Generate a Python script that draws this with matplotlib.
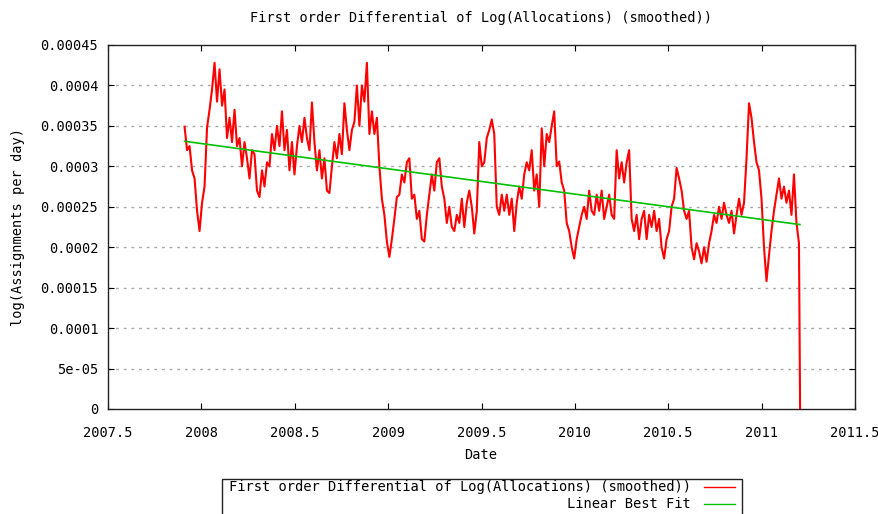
"""First order differential of log(allocations), smoothed, with a linear fit."""

import matplotlib

matplotlib.use("Agg")
import matplotlib.pyplot as plt
from matplotlib.lines import Line2D
from matplotlib.patches import Rectangle
import numpy as np

# Red series (units of 1e-4), evenly spaced in time
red_start = 2007.91
red_end = 2011.20
red_values = [
    3.49, 3.20, 3.25, 2.95, 2.85, 2.45, 2.20, 2.55, 2.75, 3.48,
    3.70, 3.95, 4.28, 3.80, 4.20, 3.75, 3.95, 3.35, 3.60, 3.30,
    3.70, 3.25, 3.35, 3.00, 3.30, 3.10, 2.85, 3.20, 3.15, 2.70,
    2.62, 2.95, 2.75, 3.05, 3.00, 3.40, 3.20, 3.50, 3.25, 3.68,
    3.20, 3.45, 2.95, 3.30, 2.90, 3.25, 3.50, 3.30, 3.60, 3.35,
    3.20, 3.79, 3.30, 2.95, 3.20, 2.85, 3.10, 2.70, 2.67, 3.00,
    3.30, 3.10, 3.40, 3.15, 3.78, 3.45, 3.20, 3.45, 3.55, 4.00,
    3.50, 4.00, 3.80, 4.28, 3.40, 3.68, 3.40, 3.60, 3.00, 2.60,
    2.40, 2.07, 1.88, 2.10, 2.35, 2.62, 2.65, 2.90, 2.80, 3.05,
    3.10, 2.60, 2.65, 2.35, 2.45, 2.10, 2.07, 2.40, 2.65, 2.90,
    2.70, 3.05, 3.10, 2.75, 2.60, 2.30, 2.50, 2.25, 2.20, 2.40,
    2.30, 2.60, 2.25, 2.55, 2.70, 2.50, 2.17, 2.45, 3.30, 3.00,
    3.05, 3.35, 3.45, 3.58, 3.40, 2.50, 2.40, 2.65, 2.45, 2.65,
    2.40, 2.60, 2.20, 2.55, 2.75, 2.60, 2.90, 3.05, 2.95, 3.20,
    2.70, 2.90, 2.50, 3.47, 3.00, 3.40, 3.30, 3.50, 3.68, 3.00,
    3.06, 2.80, 2.70, 2.30, 2.20, 2.00, 1.86, 2.10, 2.25, 2.40,
    2.50, 2.35, 2.70, 2.45, 2.40, 2.65, 2.45, 2.70, 2.35, 2.50,
    2.65, 2.40, 2.35, 3.20, 2.85, 3.05, 2.80, 3.05, 3.20, 2.35,
    2.20, 2.40, 2.10, 2.35, 2.45, 2.10, 2.40, 2.25, 2.45, 2.20,
    2.35, 2.00, 1.86, 2.10, 2.20, 2.50, 2.60, 2.98, 2.85, 2.70,
    2.45, 2.35, 2.45, 2.00, 1.85, 2.05, 1.95, 1.80, 2.00, 1.82,
    2.05, 2.20, 2.40, 2.30, 2.50, 2.35, 2.55, 2.40, 2.30, 2.45,
    2.17, 2.40, 2.60, 2.40, 2.55, 3.10, 3.78, 3.60, 3.30, 3.05,
    2.95, 2.60, 2.00, 1.58, 1.90, 2.20, 2.45, 2.65, 2.85, 2.60,
    2.75, 2.55, 2.70, 2.40, 2.90, 2.30, 2.05,
]
# final collapse of the series
drop_years = [2011.203, 2011.206]
drop_values = [1.02, 0.0]

# Linear best fit end points
fit_years = [2007.91, 2011.205]
fit_values = [3.31, 2.28]

x_ticks = [2007.5, 2008, 2008.5, 2009, 2009.5, 2010, 2010.5, 2011, 2011.5]
x_labels = ["2007.5", "2008", "2008.5", "2009", "2009.5", "2010", "2010.5", "2011", "2011.5"]
y_ticks = [0, 0.00005, 0.0001, 0.00015, 0.0002, 0.00025, 0.0003, 0.00035, 0.0004, 0.00045]
y_labels = ["0", "5e-05", "0.0001", "0.00015", "0.0002", "0.00025",
            "0.0003", "0.00035", "0.0004", "0.00045"]

series_label = "First order Differential of Log(Allocations) (smoothed))"
fit_label = "Linear Best Fit"

plt.rcParams["font.family"] = ["DejaVu Sans Mono"]
plt.rcParams["font.size"] = 9.8

W, H = 879, 514
fig = plt.figure(figsize=(W / 100, H / 100), dpi=100)
ax = fig.add_axes([108 / W, 1 - 409 / H, (855 - 108) / W, (409 - 45) / H])

years = np.concatenate([np.linspace(red_start, red_end, len(red_values)), drop_years])
vals = np.concatenate([red_values, drop_values]) * 1e-4

ax.plot(years, vals, color="#ff0000", lw=1.5, zorder=3)
ax.plot(fit_years, np.array(fit_values) * 1e-4, color="#00c000", lw=1.2, zorder=4)

ax.set_xlim(2007.5, 2011.5)
ax.set_ylim(0, 0.00045)
ax.set_xticks(x_ticks)
ax.set_xticklabels(x_labels)
ax.set_yticks(y_ticks)
ax.set_yticklabels(y_labels)
ax.tick_params(direction="in", length=4, width=0.8, top=True, right=True,
               labeltop=False, labelright=False)
ax.tick_params(axis="x", pad=12)
ax.tick_params(axis="y", pad=7)
for sp in ax.spines.values():
    sp.set_linewidth(1.0)
    sp.set_color("#222222")

for yv in y_ticks[1:-1]:
    ax.axhline(yv, color="#a8a8a8", lw=1.0, ls=(0, (2, 3.5)), zorder=1)

fig.text(481 / W, 1 - 18 / H, "First order Differential of Log(Allocations) (smoothed))",
         ha="center", va="center")
fig.text(481 / W, 1 - 455 / H, "Date", ha="center", va="center")
fig.text(18 / W, 1 - 227 / H, "log(Assignments per day)", rotation=90,
         ha="center", va="center")

# legend box below the plot, running off the bottom edge
fig.patches.append(Rectangle((222 / W, 1 - 540 / H), (742 - 222) / W, (540 - 479) / H,
                             transform=fig.transFigure, fill=False,
                             edgecolor="#222222", lw=1.0))
fig.text(691 / W, 1 - 487 / H, series_label, ha="right", va="center", fontsize=9.95)
fig.text(691 / W, 1 - 504 / H, fit_label, ha="right", va="center", fontsize=9.95)
fig.lines.append(Line2D([704 / W, 735 / W], [1 - 487 / H] * 2, transform=fig.transFigure,
                        color="#ff0000", lw=1.0))
fig.lines.append(Line2D([704 / W, 735 / W], [1 - 504 / H] * 2, transform=fig.transFigure,
                        color="#00c000", lw=1.0))

fig.savefig("out.png", dpi=100)
plt.close(fig)
